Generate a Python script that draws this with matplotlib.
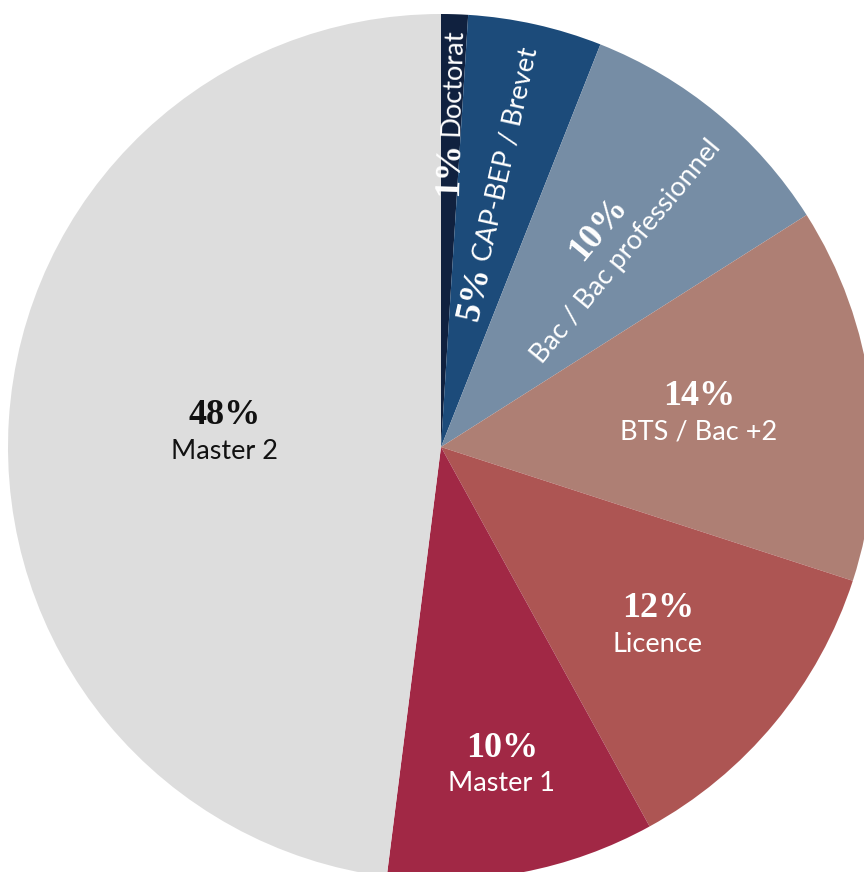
import numpy as np
import matplotlib
matplotlib.use("Agg")
import matplotlib.pyplot as plt

# niveaux de diplôme, dans l'ordre horaire depuis le haut
labels = ["Doctorat", "CAP-BEP / Brevet", "Bac / Bac professionnel",
          "BTS / Bac +2", "Licence", "Master 1", "Master 2"]
shares = [1, 5, 10, 14, 12, 10, 48]
colors = ["#10213f", "#1c4b7a", "#768da5", "#ae7f74",
          "#ad5553", "#a12845", "#dddddd"]
text_colors = ["white"] * 6 + ["#111111"]

PCT_FONT = dict(family="Liberation Serif", weight="bold", size=26)
LBL_FONT = dict(family="Lato", size=19.5)


def mid_angle(w):
    return np.deg2rad((w.theta1 + w.theta2) / 2)


fig = plt.figure(figsize=(8.64, 8.72), dpi=100)
ax = fig.add_axes([0, 0, 1, 1])
wedges, _ = ax.pie(shares, colors=colors, startangle=90, counterclock=False,
                   radius=1, wedgeprops=dict(linewidth=0))

# repère : centre du camembert à (441, 447) px, rayon 433 px
R = 433.0
ax.set_xlim(-441 / R, (864 - 441) / R)
ax.set_ylim(-(872 - 447) / R, 447 / R)
ax.set_aspect("auto")
ax.axis("off")

gap = 0.041  # demi-interligne entre pourcentage et libellé

# libellés horizontaux (pourcentage au-dessus du nom)
flat = {3: 0.60, 4: 0.65, 5: 0.75, 6: 0.50}
for i, r in flat.items():
    a = mid_angle(wedges[i])
    x, y = r * np.cos(a), r * np.sin(a)
    ax.text(x, y + gap, f"{shares[i]}%", ha="center", va="center",
            color=text_colors[i], **PCT_FONT)
    ax.text(x, y - gap, labels[i], ha="center", va="center",
            color=text_colors[i], **LBL_FONT)

# libellés radiaux sur une ligne : "1% Doctorat", "5% CAP-BEP / Brevet"
inline = {0: 0.71, 1: 0.43}
for i, r in inline.items():
    a = mid_angle(wedges[i])
    rot = np.rad2deg(a)
    ax.text((r - 0.005) * np.cos(a), (r - 0.005) * np.sin(a), f"{shares[i]}%",
            ha="right", va="center", rotation=rot, rotation_mode="anchor",
            color=text_colors[i], **PCT_FONT)
    ax.text((r + 0.01) * np.cos(a), (r + 0.01) * np.sin(a), labels[i],
            ha="left", va="center", rotation=rot, rotation_mode="anchor",
            color=text_colors[i], **LBL_FONT)

# libellé radial sur deux lignes pour le Bac
i = 2
a = mid_angle(wedges[i])
rot = np.rad2deg(a)
r = 0.62
cx, cy = r * np.cos(a), r * np.sin(a)
px, py = -np.sin(a), np.cos(a)  # direction "haut" du texte tourné
ax.text(cx + gap * px, cy + gap * py, f"{shares[i]}%", ha="center", va="center",
        rotation=rot, rotation_mode="anchor", color=text_colors[i], **PCT_FONT)
ax.text(cx - gap * px, cy - gap * py, labels[i], ha="center", va="center",
        rotation=rot, rotation_mode="anchor", color=text_colors[i], **LBL_FONT)

fig.savefig("out.png", dpi=100)
